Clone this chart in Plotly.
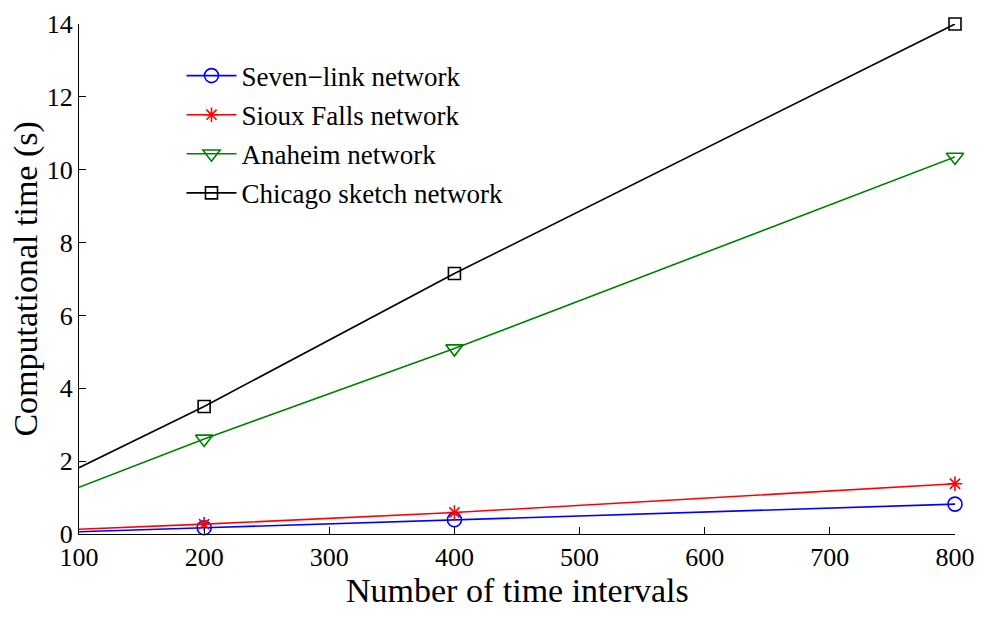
import plotly.graph_objects as go

# Data
intervals = [100, 200, 400, 800]
seven_link = [0.06, 0.17, 0.39, 0.82]
sioux_falls = [0.13, 0.27, 0.59, 1.38]
anaheim = [1.28, 2.61, 5.09, 10.35]
chicago = [1.82, 3.5, 7.15, 14.0]

series = [
    ("Seven\u2212link network", seven_link, "#0000ff", "circle-open", 14),
    ("Sioux Falls network", sioux_falls, "#ff0000", "asterisk-open", 12),
    ("Anaheim network", anaheim, "#008000", "triangle-down-open", 15),
    ("Chicago sketch network", chicago, "#000000", "square-open", 12),
]

SERIF = "Liberation Serif"

fig = go.Figure()

for i, (name, vals, color, symbol, size) in enumerate(series):
    # first segment (no marker at x=100)
    fig.add_trace(go.Scatter(
        x=intervals[:2], y=vals[:2], mode="lines",
        line=dict(color=color, width=1.6),
        showlegend=False, legendgroup=str(i), hoverinfo="skip",
    ))
    # rest of the line with markers
    fig.add_trace(go.Scatter(
        x=intervals[1:], y=vals[1:], mode="lines+markers", name=name,
        line=dict(color=color, width=1.6),
        marker=dict(symbol=symbol, size=size, color=color,
                    line=dict(color=color, width=1.6)),
        legendgroup=str(i), cliponaxis=False,
    ))

# axis titles as annotations so they sit exactly where the reference has them
fig.add_annotation(text="Number of time intervals", xref="paper", yref="paper",
                   x=0.5, y=-0.11, xanchor="center", yanchor="middle",
                   showarrow=False, font=dict(family=SERIF, size=34))
fig.add_annotation(text="Computational time (s)", xref="paper", yref="paper",
                   x=-0.061, y=0.5, xanchor="center", yanchor="middle",
                   textangle=-90, showarrow=False, font=dict(family=SERIF, size=34))

# page body has an 8px margin, so the figure is sized to fit inside the window
fig.update_layout(
    width=978, height=611,
    margin=dict(l=71, r=31, t=16, b=85),
    paper_bgcolor="white", plot_bgcolor="white",
    font=dict(family=SERIF, color="black"),
    legend=dict(
        x=0.117, y=0.946, xanchor="left", yanchor="top",
        font=dict(family=SERIF, size=27),
        bgcolor="rgba(0,0,0,0)", tracegroupgap=1, itemwidth=50,
    ),
    xaxis=dict(
        range=[100, 800], tickmode="array",
        tickvals=[100, 200, 300, 400, 500, 600, 700, 800],
        ticks="inside", ticklen=7, tickcolor="black",
        showline=True, linecolor="black", linewidth=1,
        showgrid=False, zeroline=False, automargin=False,
        tickfont=dict(family=SERIF, size=26),
    ),
    yaxis=dict(
        range=[0, 14], tickmode="array",
        tickvals=[0, 2, 4, 6, 8, 10, 12, 14],
        ticks="inside", ticklen=7, tickcolor="black",
        showline=True, linecolor="black", linewidth=1,
        showgrid=False, zeroline=False, automargin=False,
        tickfont=dict(family=SERIF, size=26),
    ),
)

fig.write_html("out.html")
